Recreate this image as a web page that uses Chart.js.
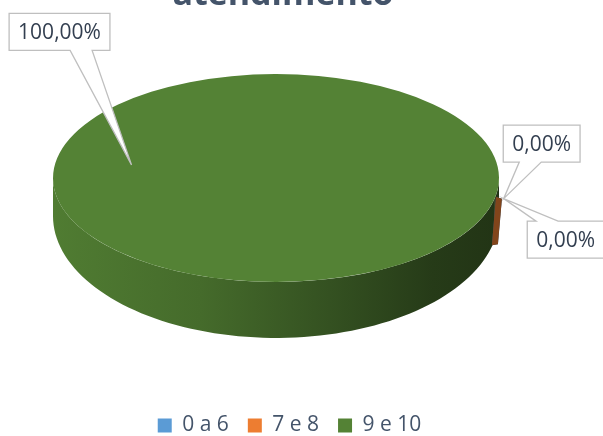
<!DOCTYPE html>
<html><head><meta charset="utf-8">
<script src="https://cdn.jsdelivr.net/npm/chart.js@4.4.1/dist/chart.umd.min.js"></script>
<style>html,body{margin:0;padding:0;background:#fff;overflow:hidden;width:603px;height:436px}</style>
</head><body>
<canvas id="c" width="603" height="446"></canvas>
<script>
// ---- data ----
const categories = ['0 a 6', '7 e 8', '9 e 10'];
const values = [0, 0, 100];
const sliceColors = ['#5B9BD5', '#ED7D31', '#548235'];
const titleText = 'atendimento';

// ---- layout / style constants ----
const PIE_CX = 276, PIE_CY = 178, PIE_R = 223, TILT = 0.466;
const SIDE_TOP = 38, SIDE_EXTRA = 18;
const LABEL_TIP = [1.04, 1.04, 0.66];
const LABEL_BOX_OFFSET = [[38, -55], [62, 41], [-72, -133]];
const FONT = '"Open Sans", sans-serif';
const TEXT_COLOR = '#44546A';
const LABEL_COLOR = '#333F50';

function shade(hex, f) {
  const n = parseInt(hex.slice(1), 16);
  const r = Math.round(((n >> 16) & 255) * f), g = Math.round(((n >> 8) & 255) * f), b = Math.round((n & 255) * f);
  return `rgb(${r},${g},${b})`;
}
function topPt(t, r) { return [PIE_CX + r * Math.cos(t), PIE_CY + r * TILT * Math.sin(t)]; }
function botPt(t, r) { return [PIE_CX + r * Math.cos(t), PIE_CY + SIDE_TOP + (r * TILT + SIDE_EXTRA) * Math.sin(t)]; }
function frontSegments(s, e) {
  const segs = [], TWO = 2 * Math.PI;
  for (let k = Math.floor(s / TWO) - 1; k <= Math.ceil(e / TWO) + 1; k++) {
    const a = Math.max(s, k * TWO), b = Math.min(e, k * TWO + Math.PI);
    if (b > a) segs.push([a, b]);
  }
  return segs;
}
function fmt(v, total) { return (v / total * 100).toFixed(2).replace('.', ',') + '%'; }

const pie3d = {
  id: 'pie3d',
  beforeDatasetsDraw(chart) {
    const ctx = chart.ctx;
    const arcs = chart.getDatasetMeta(0).data;
    const R = arcs[0].outerRadius;
    arcs.forEach((arc, i) => {
      const color = sliceColors[i];
      frontSegments(arc.startAngle, arc.endAngle).forEach(([a, b]) => {
        const g = ctx.createLinearGradient(PIE_CX - R, 0, PIE_CX + R, 0);
        [[0, 0.95], [0.33, 0.82], [0.62, 0.62], [0.85, 0.45], [1, 0.4]].forEach(([p, f]) => g.addColorStop(p, shade(color, f)));
        ctx.beginPath();
        const N = 80;
        for (let j = 0; j <= N; j++) { const t = a + (b - a) * j / N; const p = topPt(t, R); j ? ctx.lineTo(p[0], p[1]) : ctx.moveTo(p[0], p[1]); }
        for (let j = N; j >= 0; j--) { const t = a + (b - a) * j / N; const p = botPt(t, R); ctx.lineTo(p[0], p[1]); }
        ctx.closePath();
        ctx.fillStyle = g; ctx.fill();
      });
    });
    arcs.forEach((arc, i) => {
      if (arc.endAngle - arc.startAngle > 1e-6) return;
      const t = arc.startAngle;
      if (Math.sin(t) < 0) return;
      const p = topPt(t, R), q = botPt(t, R);
      ctx.beginPath();
      ctx.moveTo(p[0] + 1, p[1] - 1);
      ctx.lineTo(p[0] + 7, p[1] + 1);
      ctx.lineTo(q[0] + 3, q[1] + 5);
      ctx.lineTo(q[0] - 3, q[1] + 6);
      ctx.closePath();
      ctx.fillStyle = shade(sliceColors[i], 0.55);
      ctx.fill();
    });
    ctx.save();
    ctx.translate(PIE_CX, PIE_CY);
    ctx.scale(1, TILT);
    ctx.translate(-arcs[0].x, -arcs[0].y);
  },
  afterDatasetsDraw(chart) {
    chart.ctx.restore();
  },
  afterDraw(chart) {
    const ctx = chart.ctx;
    const arcs = chart.getDatasetMeta(0).data;
    const R = arcs[0].outerRadius;
    const total = values.reduce((a, b) => a + b, 0);
    ctx.save();
    ctx.font = `21px ${FONT}`;
    arcs.forEach((arc, i) => {
      const mid = (arc.startAngle + arc.endAngle) / 2;
      const tip = topPt(mid, R * LABEL_TIP[i]);
      const txt = fmt(values[i], total);
      const w = ctx.measureText(txt).width + 18, h = 37;
      const cx = tip[0] + LABEL_BOX_OFFSET[i][0], cy = tip[1] + LABEL_BOX_OFFSET[i][1];
      const L = cx - w / 2, Rr = cx + w / 2, T = cy - h / 2, B = cy + h / 2;
      let bc = cx + 0.3 * (tip[0] - cx);
      bc = Math.max(L + 14, Math.min(Rr - 14, bc));
      const hw = 11;
      ctx.beginPath();
      if (tip[1] > B) {
        ctx.moveTo(L, T); ctx.lineTo(Rr, T); ctx.lineTo(Rr, B);
        ctx.lineTo(bc + hw, B); ctx.lineTo(tip[0], tip[1]); ctx.lineTo(bc - hw, B);
        ctx.lineTo(L, B);
      } else {
        ctx.moveTo(L, T); ctx.lineTo(bc - hw, T); ctx.lineTo(tip[0], tip[1]); ctx.lineTo(bc + hw, T);
        ctx.lineTo(Rr, T); ctx.lineTo(Rr, B); ctx.lineTo(L, B);
      }
      ctx.closePath();
      ctx.fillStyle = '#fff'; ctx.fill();
      ctx.strokeStyle = '#BFBFBF'; ctx.lineWidth = 1.3; ctx.stroke();
      ctx.fillStyle = LABEL_COLOR;
      ctx.textAlign = 'center'; ctx.textBaseline = 'middle';
      ctx.fillText(txt, cx, cy + 1);
    });
    ctx.font = `bold 34px ${FONT}`;
    ctx.textAlign = 'center'; ctx.textBaseline = 'alphabetic';
    ctx.fillStyle = TEXT_COLOR;
    ctx.fillText(titleText, 283, 4.5);
    ctx.restore();
  }
};

new Chart(document.getElementById('c'), {
  type: 'pie',
  data: {
    labels: categories,
    datasets: [{ data: values, backgroundColor: sliceColors, borderWidth: 0, hoverOffset: 0, rotation: 101, radius: PIE_R, clip: false }]
  },
  options: {
    responsive: false, animation: false, events: [],
    layout: { padding: { left: 0, right: 24, top: 0, bottom: 0 } },
    plugins: {
      legend: { position: 'bottom', labels: { boxWidth: 14, boxHeight: 14, padding: 19, color: TEXT_COLOR, font: { family: FONT, size: 21 } } },
      tooltip: { enabled: false },
      title: { display: false }
    }
  },
  plugins: [pie3d]
});
</script>
</body></html>
